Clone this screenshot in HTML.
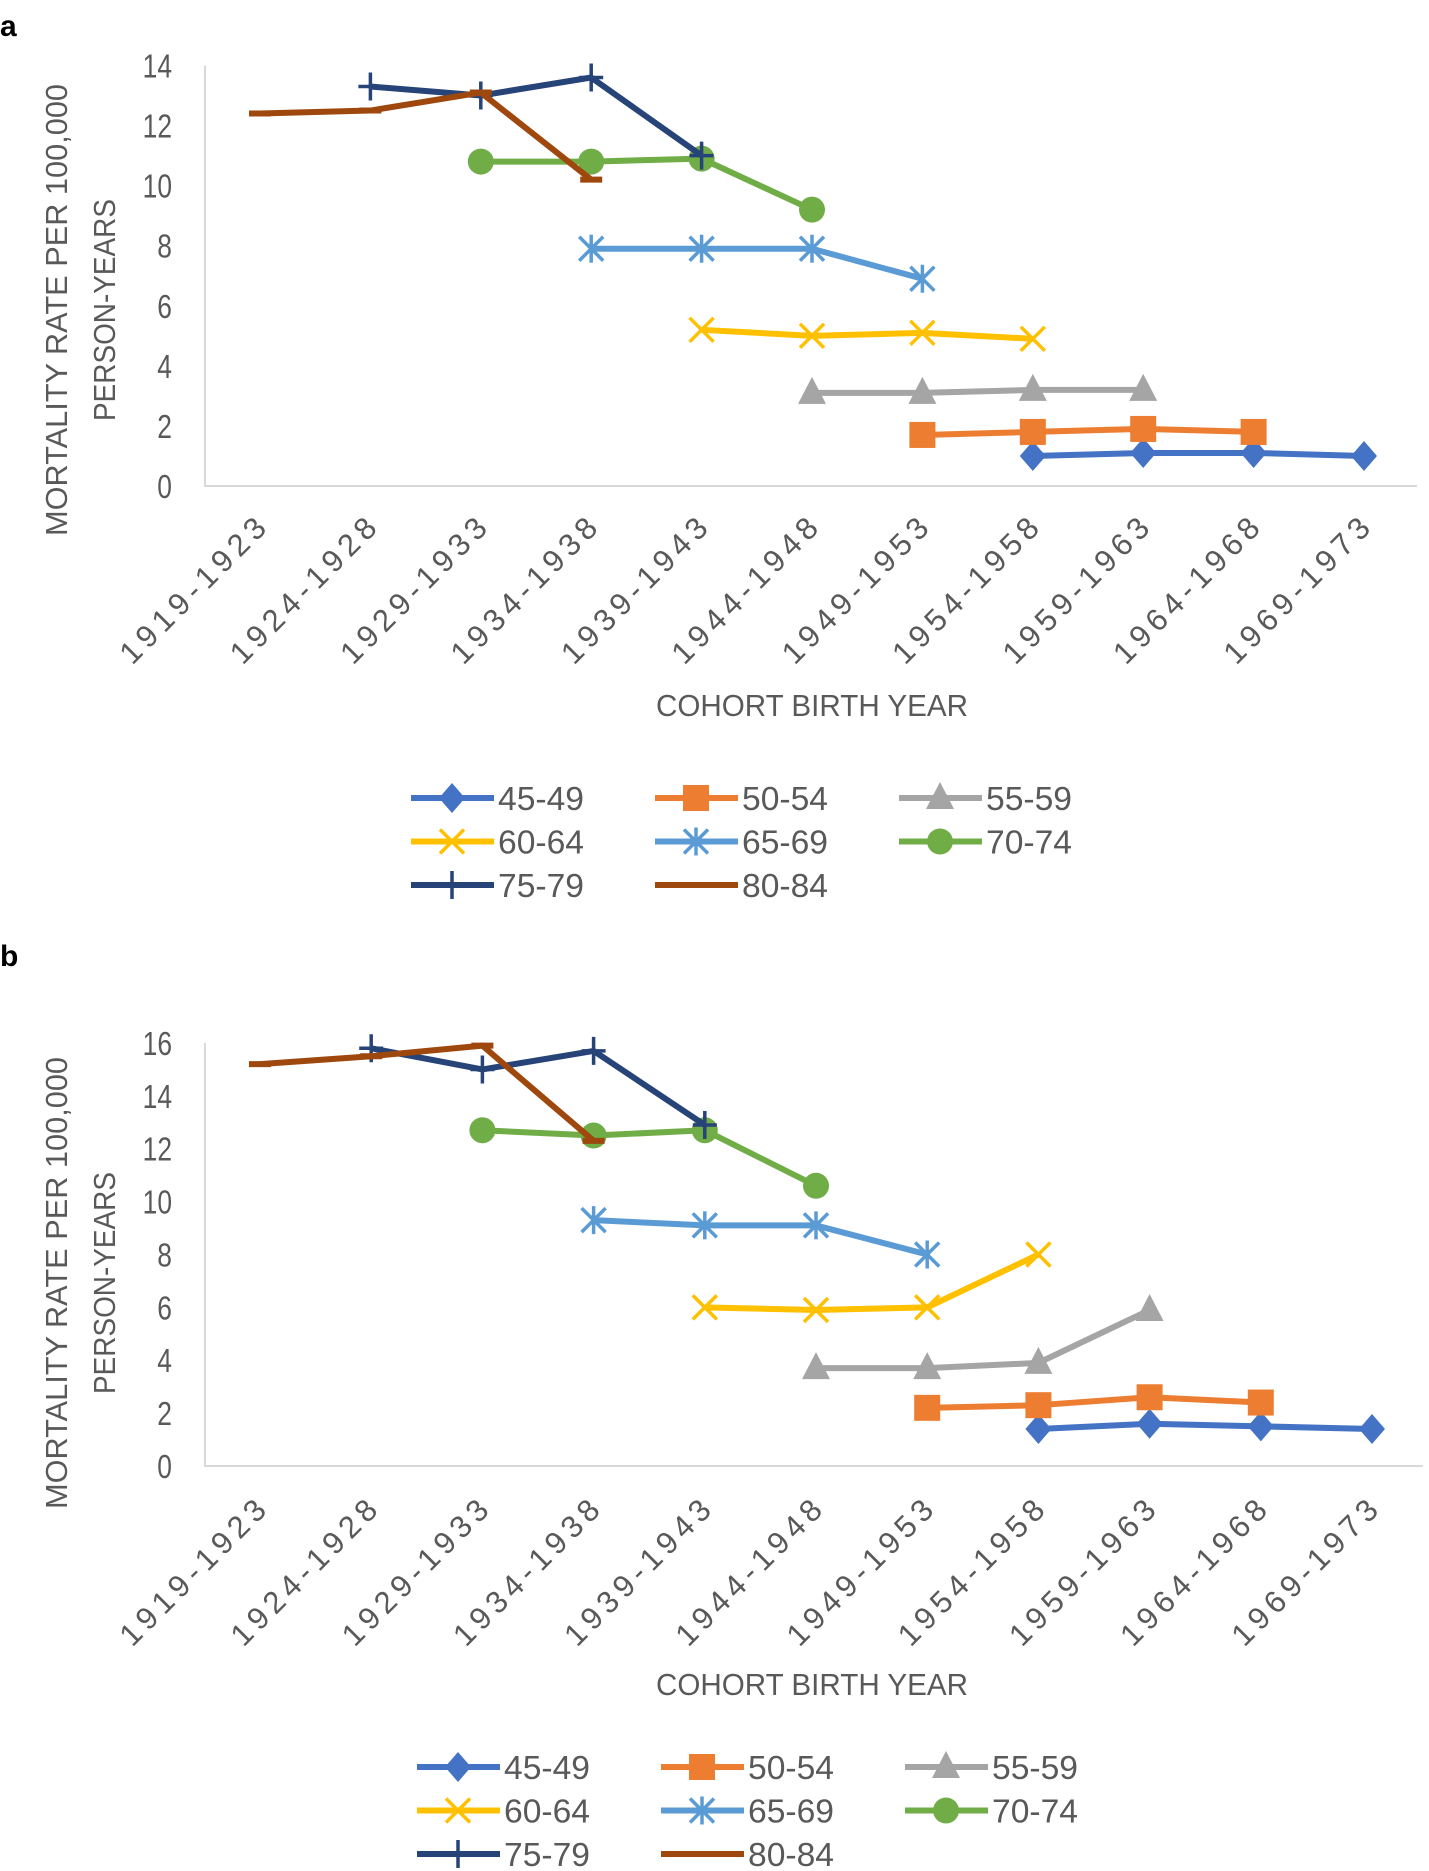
<!DOCTYPE html>
<html><head><meta charset="utf-8"><style>
html,body{margin:0;padding:0;background:#fff;}
svg{display:block;font-family:"Liberation Sans",sans-serif;}
</style></head><body>
<svg id="root" width="1429" height="1871" viewBox="0 0 1429 1871" xmlns="http://www.w3.org/2000/svg"></svg>
<script>
const categories = ["1919-1923","1924-1928","1929-1933","1934-1938","1939-1943","1944-1948","1949-1953","1954-1958","1959-1963","1964-1968","1969-1973"];
const seriesNames = ["45-49","50-54","55-59","60-64","65-69","70-74","75-79","80-84"];
const seriesStart = [7,6,5,4,3,2,1,0];
const aS1=[1.0,1.1,1.1,1.0], aS2=[1.7,1.8,1.9,1.8], aS3=[3.1,3.1,3.2,3.2], aS4=[5.2,5.0,5.1,4.9];
const aS5=[7.9,7.9,7.9,6.9], aS6=[10.8,10.8,10.9,9.2], aS7=[13.3,13.0,13.6,11.0], aS8=[12.4,12.5,13.1,10.2];
const bS1=[1.4,1.6,1.5,1.4], bS2=[2.2,2.3,2.6,2.4], bS3=[3.7,3.7,3.9,5.9], bS4=[6.0,5.9,6.0,8.0];
const bS5=[9.3,9.1,9.1,8.0], bS6=[12.7,12.5,12.7,10.6], bS7=[15.8,15.0,15.7,12.9], bS8=[15.2,15.5,15.9,12.3];
const aTicks=[0,2,4,6,8,10,12,14];
const bTicks=[0,2,4,6,8,10,12,14,16];

const colors=["#4472C4","#ED7D31","#A5A5A5","#FFC000","#5B9BD5","#70AD47","#264478","#9E480E"];
const markers=["diamond","square","triangle","x","star","circle","plus","dash"];
const NS="http://www.w3.org/2000/svg";
const root=document.getElementById('root');
function mk(tag,attrs,parent){const e=document.createElementNS(NS,tag);for(const k in attrs)e.setAttribute(k,attrs[k]);(parent||root).appendChild(e);return e;}

function marker(g,type,x,y,c){
  let e;
  if(type==="diamond"){e=mk('polygon',{points:`${x},${y-15} ${x+13},${y} ${x},${y+15} ${x-13},${y}`,fill:c},g);}
  else if(type==="square"){e=mk('rect',{x:x-13,y:y-13,width:26,height:26,fill:c},g);}
  else if(type==="triangle"){e=mk('polygon',{points:`${x},${y-16} ${x+14},${y+11} ${x-14},${y+11}`,fill:c},g);}
  else if(type==="x"){e=mk('path',{d:`M${x-12},${y-12}L${x+12},${y+12}M${x+12},${y-12}L${x-12},${y+12}`,stroke:c,'stroke-width':3.5,fill:'none'},g);}
  else if(type==="star"){e=mk('path',{d:`M${x-12},${y-12}L${x+12},${y+12}M${x+12},${y-12}L${x-12},${y+12}M${x},${y-14}L${x},${y+14}`,stroke:c,'stroke-width':3.5,fill:'none'},g);}
  else if(type==="circle"){e=mk('circle',{cx:x,cy:y,r:13,fill:c},g);}
  else if(type==="plus"){e=mk('path',{d:`M${x-12},${y}L${x+12},${y}M${x},${y-14}L${x},${y+14}`,stroke:c,'stroke-width':3.5,fill:'none'},g);}
  else {e=mk('path',{d:`M${x-11},${y}L${x+11},${y}`,stroke:c,'stroke-width':6},g);}
  
  
}

function chart(cfg){
  const g=mk('g',{});
  
  
  const xs=i=>cfg.x0+i*(cfg.x1-cfg.x0)/(categories.length-1);
  const ys=v=>cfg.y0-(v/cfg.ticks[cfg.ticks.length-1])*(cfg.y0-cfg.yTop);
  const pl=mk('text',{x:0,y:cfg.labelY,'font-size':30,'font-weight':'bold',fill:'#000'},g);pl.textContent=cfg.panel;
  
  const ax=mk('path',{d:`M${cfg.axL},${ys(cfg.ticks[cfg.ticks.length-1])}L${cfg.axL},${cfg.y0}L${cfg.axR},${cfg.y0}`,stroke:'#d9d9d9','stroke-width':2,fill:'none'},g);
  
  cfg.ticks.forEach(t=>{const e=mk('text',{x:172,y:ys(t)+12,'text-anchor':'end','font-size':33,fill:'#595959',transform:`translate(172,0) scale(0.8,1) translate(-172,0)`},g);e.textContent=t;
    });
  categories.forEach((c,i)=>{const x=xs(i)+8,y=cfg.tickY;const e=mk('text',{x:x,y:y,'text-anchor':'end','font-size':31,fill:'#595959',textLength:192,lengthAdjust:'spacing',transform:`rotate(-45 ${x} ${y})`},g);e.textContent=c;
    });
  const xt=mk('text',{x:812,y:cfg.xTitleY,'text-anchor':'middle','font-size':31,fill:'#595959',textLength:312,lengthAdjust:'spacingAndGlyphs'},g);xt.textContent="COHORT BIRTH YEAR";
  
  const yc=cfg.yTitleC;
  const y1=mk('text',{x:0,y:0,'text-anchor':'middle','font-size':31,fill:'#595959',textLength:452,lengthAdjust:'spacingAndGlyphs',transform:`translate(67 ${yc}) rotate(-90)`},g);y1.textContent="MORTALITY RATE PER 100,000";
  
  const y2=mk('text',{x:0,y:0,'text-anchor':'middle','font-size':31,fill:'#595959',textLength:222,lengthAdjust:'spacingAndGlyphs',transform:`translate(115 ${yc}) rotate(-90)`},g);y2.textContent="PERSON-YEARS";
  
  cfg.data.forEach((arr,s)=>{
    const sg=mk('g',{},g);
    
    
    const pts=arr.map((v,k)=>[xs(seriesStart[s]+k),ys(v)]);
    const ln=mk('polyline',{points:pts.map(p=>p.join(',')).join(' '),stroke:colors[s],'stroke-width':6,fill:'none','stroke-linejoin':'round'},sg);
    
    pts.forEach(p=>marker(sg,markers[s],p[0],p[1],colors[s]));
  });
  const lg=mk('g',{},g);
  
  
  seriesNames.forEach((n,s)=>{
    const col=s%3,row=Math.floor(s/3);
    const lx=cfg.legX+col*244,ly=cfg.legY+row*43.5;
    const eg=mk('g',{},lg);
    
    
    mk('line',{x1:lx,y1:ly,x2:lx+83,y2:ly,stroke:colors[s],'stroke-width':6},eg);
    marker(eg,markers[s],lx+41,ly,colors[s]);
    const t=mk('text',{x:lx+87,y:ly+12,'font-size':33,fill:'#595959',textLength:86,lengthAdjust:'spacingAndGlyphs'},eg);t.textContent=n;
  });
}
chart({name:'chart-a',panel:'a',labelY:36,x0:260,x1:1364,y0:486,yTop:65.5,ticks:aTicks,axL:205,axR:1417,tickY:530,xTitleY:716,yTitleC:310,legX:411,legY:798,
  data:[aS1,aS2,aS3,aS4,aS5,aS6,aS7,aS8]});
chart({name:'chart-b',panel:'b',labelY:966,x0:260,x1:1372,y0:1466,yTop:1043,ticks:bTicks,axL:205,axR:1423,tickY:1512,xTitleY:1695,yTitleC:1283,legX:417,legY:1767,
  data:[bS1,bS2,bS3,bS4,bS5,bS6,bS7,bS8]});
</script>
</body></html>
